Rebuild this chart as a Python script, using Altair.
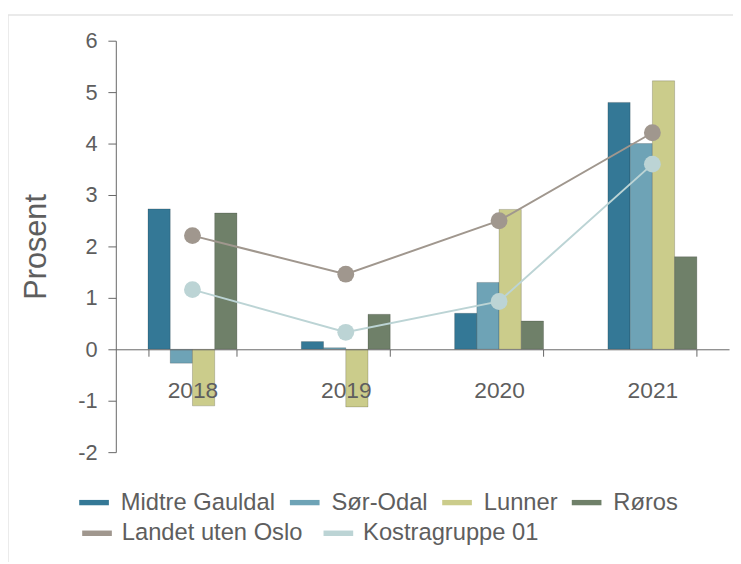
import altair as alt
import pandas as pd

years = ["2018", "2019", "2020", "2021"]
bar_series = ["Midtre Gauldal", "Sør-Odal", "Lunner", "Røros"]
midtre = [2.73, 0.15, 0.70, 4.80]
sor_odal = [-0.27, 0.03, 1.30, 4.00]
lunner = [-1.10, -1.12, 2.72, 5.22]
roros = [2.65, 0.68, 0.55, 1.80]
bar_colors = ["#347896", "#6ea3b6", "#cbcc8b", "#6f8069"]

line_series = ["Landet uten Oslo", "Kostragruppe 01"]
landet = [2.21, 1.46, 2.50, 4.21]
kostra = [1.16, 0.33, 0.93, 3.60]
line_colors = ["#a0978e", "#bcd4d5"]

y_ticks = [-2, -1, 0, 1, 2, 3, 4, 5, 6]

rows = []
for name, vals in zip(bar_series, [midtre, sor_odal, lunner, roros]):
    for yr, v in zip(years, vals):
        rows.append({"year": yr, "series": name, "value": v})
bars_df = pd.DataFrame(rows)

lrows = []
for name, vals in zip(line_series, [landet, kostra]):
    for yr, v in zip(years, vals):
        lrows.append({"year": yr, "series": name, "value": v})
lines_df = pd.DataFrame(lrows)

FONT = "Liberation Sans"
TXT = "#5e5e5e"

x_enc = alt.X(
    "year:N",
    sort=years,
    scale=alt.Scale(paddingInner=0.42, paddingOuter=0.21),
    axis=alt.Axis(
        title=None, offset=-104, tickBand="extent", tickSize=7,
        labelPadding=24, labelFontSize=23, labelColor=TXT, labelFont=FONT,
        domainColor="#666666", tickColor="#666666", labelAngle=0, zindex=1,
    ),
)
y_enc = alt.Y(
    "value:Q",
    scale=alt.Scale(domain=[-2, 6], nice=False, zero=False),
    axis=alt.Axis(
        title="Prosent", values=y_ticks, grid=False, tickSize=8,
        labelPadding=11, labelFontSize=22, labelColor=TXT, labelFont=FONT,
        labelExpr="'' + datum.value",
        titleFontSize=31, titleFontWeight="normal", titleColor=TXT, titleFont=FONT,
        titlePadding=26, domainColor="#666666", tickColor="#666666",
    ),
)

bar_path = "M-1,-0.18H1V0.18H-1Z"

common_legend = dict(
    title=None, orient="none", direction="horizontal",
    symbolSize=900, symbolOpacity=1, labelFontSize=24, labelColor=TXT,
    labelFont=FONT, legendX=-37, labelLimit=400,
)

bars = alt.Chart(bars_df).mark_bar(
    stroke="black", strokeOpacity=0.18, strokeWidth=1
).encode(
    x=x_enc,
    xOffset=alt.XOffset("series:N", sort=bar_series, scale=alt.Scale(paddingInner=0, paddingOuter=0)),
    y=y_enc,
    color=alt.Color(
        "series:N", sort=bar_series,
        scale=alt.Scale(domain=bar_series, range=bar_colors),
        legend=alt.Legend(
            legendY=452, symbolType=bar_path, symbolStrokeWidth=0,
            labelOffset=12, columnPadding=14, **common_legend,
        ),
    ),
)

line_color = alt.Color(
    "series:N", sort=line_series,
    scale=alt.Scale(domain=line_series, range=line_colors),
    legend=alt.Legend(
        legendY=480, symbolType="stroke", symbolStrokeWidth=5.5,
        labelOffset=7, columnPadding=10, **common_legend,
    ),
)

lines = alt.Chart(lines_df).mark_line(
    strokeWidth=2,
    point=alt.OverlayMarkDef(size=290, filled=True, opacity=1),
).encode(
    x=alt.X("year:N", sort=years),
    y="value:Q",
    color=line_color,
)

frame = alt.Chart(pd.DataFrame({"a": [0]})).mark_rect(
    fill=None, stroke="#e4e4e4", strokeWidth=1.5
).encode(
    x=alt.value(-109), x2=alt.value(700), y=alt.value(-26), y2=alt.value(700)
)

chart = alt.layer(frame, bars, lines).resolve_scale(
    color="independent"
).resolve_legend(color="independent").properties(
    width=620, height=416,
    padding={"left": 109, "top": 30, "right": 4, "bottom": 108},
    autosize=alt.AutoSizeParams(type="none"),
).configure_view(stroke=None).configure_legend(padding=0)

chart.save("out.html", embed_options={"renderer": "svg", "actions": False})
